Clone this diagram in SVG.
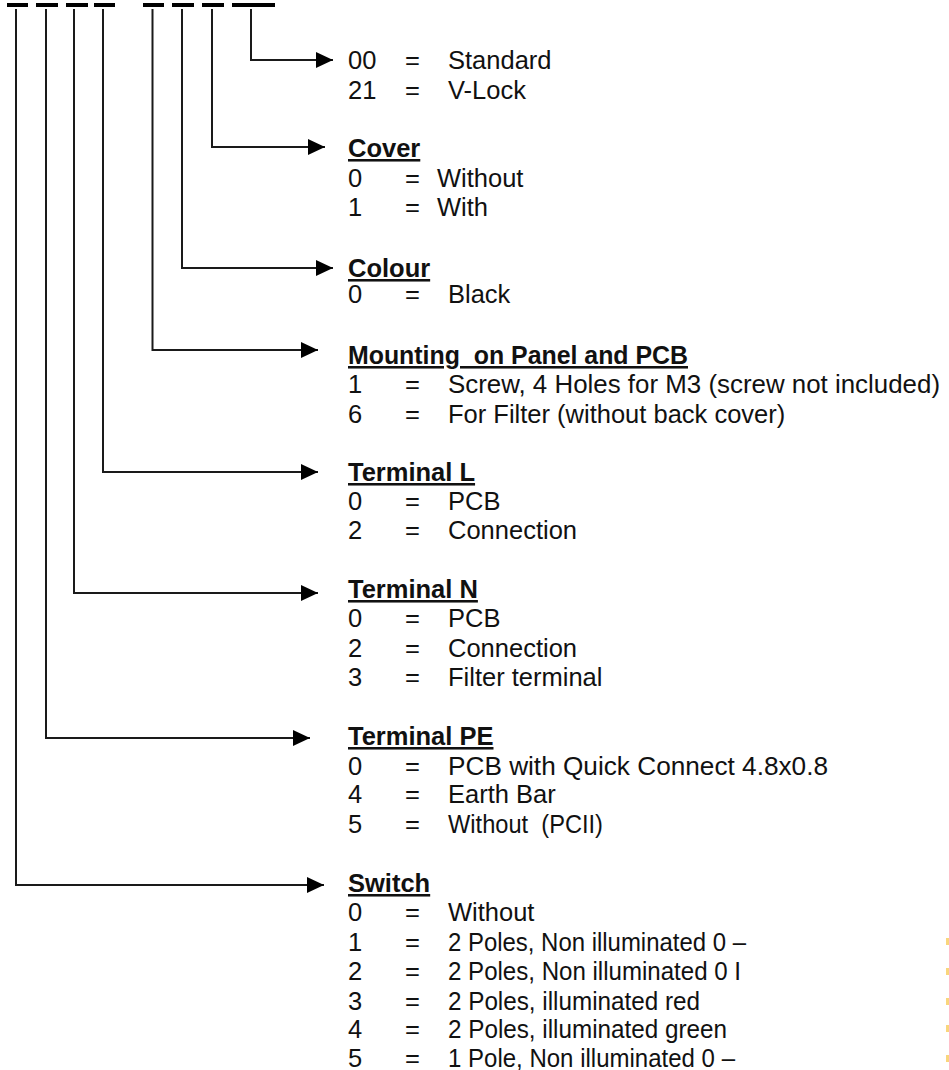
<svg xmlns="http://www.w3.org/2000/svg" width="949" height="1070" viewBox="0 0 949 1070">
<style>
text{font-family:"Liberation Sans",Arial,sans-serif;font-size:25.5px;fill:#111}
.h{font-weight:bold;text-decoration:underline}
.c{fill:none;stroke:#1a1a1a;stroke-width:2}
.d{fill:#000}
.o{fill:#f9d67c}
</style>
<defs>
<marker id="ah" markerUnits="userSpaceOnUse" markerWidth="18" markerHeight="18" refX="17" refY="8" orient="auto">
<path d="M0,0 L17,8 L0,16 Z" fill="#000"/>
</marker>
</defs>
<rect width="949" height="1070" fill="#fff"/>
<g id="code">
<rect class="d" x="7" y="3" width="21" height="4"/>
<rect class="d" x="36" y="3" width="22" height="4"/>
<rect class="d" x="66" y="3" width="22" height="4"/>
<rect class="d" x="94" y="3" width="21" height="4"/>
<rect class="d" x="143" y="3" width="21" height="4"/>
<rect class="d" x="172" y="3" width="22" height="4"/>
<rect class="d" x="202" y="3" width="22" height="4"/>
<rect class="d" x="232" y="3" width="43" height="4"/>
</g>
<g id="connectors">
<path class="c" d="M251,9 V60 H333" marker-end="url(#ah)"/>
<path class="c" d="M212,9 V147 H325" marker-end="url(#ah)"/>
<path class="c" d="M182,9 V268 H333" marker-end="url(#ah)"/>
<path class="c" d="M152.5,9 V350 H318" marker-end="url(#ah)"/>
<path class="c" d="M103,9 V472 H318" marker-end="url(#ah)"/>
<path class="c" d="M74,9 V593 H318" marker-end="url(#ah)"/>
<path class="c" d="M46,9 V738 H310" marker-end="url(#ah)"/>
<path class="c" d="M16,9 V885 H324" marker-end="url(#ah)"/>
</g>
<g id="version">
<text x="348" y="69">00</text><text x="405" y="69">=</text><text x="448" y="69">Standard</text>
<text x="348" y="99">21</text><text x="405" y="99">=</text><text x="448" y="99">V-Lock</text>
</g>
<g id="cover">
<text class="h" x="348" y="157">Cover</text>
<text x="348" y="187">0</text><text x="405" y="187">=</text><text x="437" y="187">Without</text>
<text x="348" y="216">1</text><text x="405" y="216">=</text><text x="437" y="216">With</text>
</g>
<g id="colour">
<text class="h" x="348" y="277">Colour</text>
<text x="348" y="303">0</text><text x="405" y="303">=</text><text x="448" y="303">Black</text>
</g>
<g id="mounting">
<text class="h" x="348" y="364" xml:space="preserve" textLength="340" lengthAdjust="spacingAndGlyphs">Mounting  on Panel and PCB</text>
<text x="348" y="393">1</text><text x="405" y="393">=</text><text x="448" y="393" textLength="492" lengthAdjust="spacingAndGlyphs">Screw, 4 Holes for M3 (screw not included)</text>
<text x="348" y="423">6</text><text x="405" y="423">=</text><text x="448" y="423">For Filter (without back cover)</text>
</g>
<g id="terminal-l">
<text class="h" x="348" y="481">Terminal L</text>
<text x="348" y="510">0</text><text x="405" y="510">=</text><text x="448" y="510">PCB</text>
<text x="348" y="539">2</text><text x="405" y="539">=</text><text x="448" y="539">Connection</text>
</g>
<g id="terminal-n">
<text class="h" x="348" y="598">Terminal N</text>
<text x="348" y="627">0</text><text x="405" y="627">=</text><text x="448" y="627">PCB</text>
<text x="348" y="657">2</text><text x="405" y="657">=</text><text x="448" y="657">Connection</text>
<text x="348" y="686">3</text><text x="405" y="686">=</text><text x="448" y="686">Filter terminal</text>
</g>
<g id="terminal-pe">
<text class="h" x="348" y="745">Terminal PE</text>
<text x="348" y="775">0</text><text x="405" y="775">=</text><text x="448" y="775" textLength="380" lengthAdjust="spacingAndGlyphs">PCB with Quick Connect 4.8x0.8</text>
<text x="348" y="803">4</text><text x="405" y="803">=</text><text x="448" y="803">Earth Bar</text>
<text x="348" y="833">5</text><text x="405" y="833">=</text><text x="448" y="833" xml:space="preserve" textLength="155" lengthAdjust="spacingAndGlyphs">Without  (PCII)</text>
</g>
<g id="switch">
<text class="h" x="348" y="892">Switch</text>
<text x="348" y="921">0</text><text x="405" y="921">=</text><text x="448" y="921">Without</text>
<text x="348" y="951">1</text><text x="405" y="951">=</text><text x="448" y="951" textLength="298" lengthAdjust="spacingAndGlyphs">2 Poles, Non illuminated 0 –</text>
<text x="348" y="980">2</text><text x="405" y="980">=</text><text x="448" y="980" textLength="293" lengthAdjust="spacingAndGlyphs">2 Poles, Non illuminated 0 I</text>
<text x="348" y="1010">3</text><text x="405" y="1010">=</text><text x="448" y="1010" textLength="252" lengthAdjust="spacingAndGlyphs">2 Poles, illuminated red</text>
<text x="348" y="1038">4</text><text x="405" y="1038">=</text><text x="448" y="1038" textLength="279" lengthAdjust="spacingAndGlyphs">2 Poles, illuminated green</text>
<text x="348" y="1067">5</text><text x="405" y="1067">=</text><text x="448" y="1067" textLength="287" lengthAdjust="spacingAndGlyphs">1 Pole, Non illuminated 0 –</text>
</g>
<g id="edge-marks">
<rect class="o" x="946" y="938" width="3" height="7"/>
<rect class="o" x="946" y="968" width="3" height="7"/>
<rect class="o" x="946" y="998" width="3" height="7"/>
<rect class="o" x="946" y="1025" width="3" height="7"/>
<rect class="o" x="946" y="1055" width="3" height="7"/>
</g>
</svg>
